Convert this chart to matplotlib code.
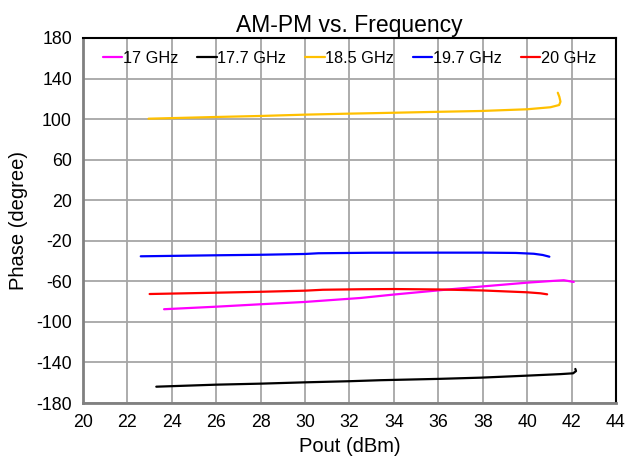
import matplotlib
matplotlib.use("Agg")
import matplotlib.pyplot as plt

plt.rcParams['font.family'] = ['Liberation Sans', 'DejaVu Sans']
plt.rcParams['axes.unicode_minus'] = False

# Pout (dBm) / phase (degree) per frequency
pout_17 = [23.65, 26.0, 28.0, 30.0, 32.5, 34.0, 36.2, 38.0, 40.0, 41.0, 41.65, 42.1]
phase_17 = [-87.5, -85.0, -82.6, -80.3, -76.4, -73.0, -68.5, -65.0, -61.3, -59.8, -58.9, -60.6]

pout_177 = [23.3, 26.0, 28.0, 30.0, 32.0, 33.4, 36.0, 37.9, 40.0, 41.5, 42.07, 42.2, 42.17]
phase_177 = [-163.9, -161.9, -160.9, -159.6, -158.5, -157.5, -156.2, -155.0, -153.0, -151.5, -150.7, -148.5, -146.4]

pout_185 = [22.95, 26.0, 28.0, 30.0, 32.0, 33.4, 36.0, 37.9, 40.0, 41.05, 41.44, 41.5, 41.45, 41.38]
phase_185 = [100.4, 102.1, 103.1, 104.4, 105.4, 106.0, 107.2, 108.0, 109.7, 111.7, 113.9, 117.2, 122.0, 126.0]

pout_197 = [22.6, 26.0, 28.0, 30.0, 30.6, 33.0, 36.0, 38.0, 39.5, 40.3, 40.7, 41.0]
phase_197 = [-35.3, -34.3, -33.8, -33.0, -32.3, -31.8, -31.7, -31.7, -32.0, -32.8, -34.0, -35.7]

pout_20 = [23.0, 26.0, 28.0, 30.0, 30.8, 32.5, 34.0, 36.0, 38.0, 40.0, 40.6, 40.9]
phase_20 = [-72.5, -71.2, -70.3, -69.2, -68.3, -67.8, -67.6, -68.0, -69.0, -70.8, -71.8, -72.8]

series = [
    ("17 GHz", pout_17, phase_17, "#ff00ff"),
    ("17.7 GHz", pout_177, phase_177, "#000000"),
    ("18.5 GHz", pout_185, phase_185, "#ffc000"),
    ("19.7 GHz", pout_197, phase_197, "#0000ff"),
    ("20 GHz", pout_20, phase_20, "#ff0000"),
]

x_ticks = list(range(20, 45, 2))
y_ticks = list(range(-180, 181, 40))

fig = plt.figure(figsize=(6.26, 4.65), dpi=100)
ax = fig.add_axes([0.1326, 0.1333, 0.8514, 0.785])

for label, xs, ys, color in series:
    ax.plot(xs, ys, color=color, lw=1.6, label=label, solid_capstyle='round')

ax.set_xlim(20, 44)
ax.set_ylim(-180, 180)
ax.set_xticks(x_ticks)
ax.set_yticks(y_ticks)
ax.tick_params(length=0, labelsize=12.8, pad=8)
ax.grid(True, color='#a6a6a6', lw=1.3)
ax.set_axisbelow(True)

for side in ['left', 'bottom']:
    ax.spines[side].set_color('#808080')
    ax.spines[side].set_linewidth(2)
for side in ['top', 'right']:
    ax.spines[side].set_color('black')
    ax.spines[side].set_linewidth(1.5)

ax.set_title('AM-PM vs. Frequency', fontsize=16.5, pad=4)
ax.set_xlabel('Pout (dBm)', fontsize=14.5, labelpad=4)
ax.set_ylabel('Phase (degree)', fontsize=14.5, labelpad=6)

ax.legend(loc='upper center', ncols=5, frameon=False, fontsize=11.7,
          handlelength=1.2, handletextpad=0.05, columnspacing=1.15,
          bbox_to_anchor=(0.5, 1.0), borderaxespad=0.4)

fig.savefig('out.png', dpi=100)
